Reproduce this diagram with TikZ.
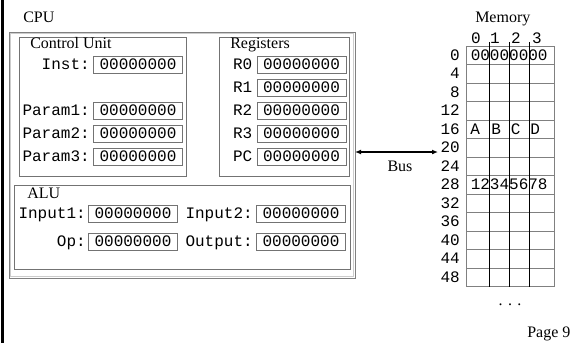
\documentclass[tikz,border=0pt]{standalone}
\usepackage{fontspec}
\setmainfont{Liberation Serif}
\setmonofont{Liberation Mono}
\usetikzlibrary{arrows.meta, positioning}

\newcommand{\capfont}{\fontsize{12}{14}\selectfont\rmfamily}
\newcommand{\cellfont}{\fontsize{12}{14}\selectfont\ttfamily}

\tikzset{
    unit/.style={draw=black!55, line width=0.75pt},
    valbox/.style={draw=black!55, line width=0.75pt, font=\cellfont, inner sep=0pt,
        minimum width=66.75pt, minimum height=12.75pt, text height=7.5pt, text depth=0pt},
    vallbl/.style={font=\cellfont, inner sep=0pt, text height=7.5pt, text depth=0pt},
    title/.style={font=\capfont, anchor=base west, inner sep=0pt},
    busarrow/.style={{Latex[length=4.5pt,width=3.75pt]}-{Latex[length=4.5pt,width=3.75pt]}, line width=1.2pt},
}

\begin{document}
\begin{tikzpicture}[x=0.75pt, y=-0.75pt]
    \useasboundingbox (0,0) rectangle (588,343);
    % rule down the left margin
    \draw[line width=2.25pt] (2.5,0) -- (2.5,343);

    % CPU frame with grooved edge
    \draw[draw=black!50, line width=0.75pt] (9,32) rectangle (355,278);
    \draw[draw=black!20, line width=0.75pt] (10.4,33.4) rectangle (353.6,276.6);
    \node[title] (cpu) at (23,22) {CPU};

    % control unit
    \draw[unit] (19,37) rectangle (186,176);
    \node[title] (cu) at (30,48) {Control Unit};
    \node[valbox] (inst) at (138,64.5) {00000000};
    \node[vallbl, left=2.25pt of inst] (instl) {Inst:};
    \foreach \i in {1,2,3} {
        \node[valbox] (param\i) at (138,{87.5+23*\i}) {00000000};
        \node[vallbl, left=2.25pt of param\i] (paraml\i) {Param\i:};
    }

    % register file
    \draw[unit] (219,37) rectangle (349,176);
    \node[title] (regs) at (230,48) {Registers};
    \foreach \rn [count=\i from 0] in {R0,R1,R2,R3,PC} {
        \node[valbox] (reg\i) at (301.5,{64.5+23*\i}) {00000000};
        \node[vallbl, left=3pt of reg\i] (regl\i) {\rn};
    }

    % ALU
    \draw[unit] (14,185) rectangle (350,269);
    \node[title] (alu) at (27,198) {ALU};
    \node[valbox] (in1) at (133,213.5) {00000000};
    \node[valbox] (in2) at (301,213.5) {00000000};
    \node[valbox] (op) at (133,241.5) {00000000};
    \node[valbox] (out) at (301,241.5) {00000000};
    \node[vallbl, left=1.5pt of in1] (in1l) {Input1:};
    \node[vallbl, left=2.25pt of in2] (in2l) {Input2:};
    \node[vallbl, left=1.5pt of op] (opl) {Op:};
    \node[vallbl, left=2.25pt of out] (outl) {Output:};

    % bus between CPU and memory
    \coordinate (busl) at (355,152);
    \coordinate (busr) at (438,152);
    \draw[busarrow] (busl) -- (busr);
    \node[font=\capfont, inner sep=0pt] (bus) at (400,166) {Bus};

    % memory grid
    \node[title] (mem) at (475,22) {Memory};
    \foreach \cl/\x in {0/476,1/495,2/516,3/537}
        \node[vallbl] (col\cl) at (\x,38) {\cl};
    \foreach \k in {0,...,13}
        \draw[black!50, line width=0.75pt] (466,{46+18.5*\k}) -- (554,{46+18.5*\k});
    \draw[black!50, line width=0.75pt] (466,46) -- (466,286.5);
    \draw[black!50, line width=0.75pt] (554,46) -- (554,286.5);
    \foreach \x in {489,509,529}
        \draw[line width=0.75pt] (\x,42) -- (\x,286.5);
    \foreach \a [count=\k from 0] in {0,4,...,48}
        \node[vallbl, anchor=east] (addr\a) at (460,{55.25+18.5*\k}) {\a};

    % memory contents
    \node[vallbl, anchor=west] (word0) at (470.5,55.25) {00000000};
    \foreach \ch/\x in {A/470,B/491,C/510.5,D/530}
        \node[vallbl, anchor=west] (byte\ch) at (\x,129.25) {\ch};
    \node[vallbl, anchor=west] (word28) at (470.5,184.75) {12345678};

    \node[font=\capfont, inner sep=0pt] (more) at (510,305) {. . .};
    \node[title] (page) at (527,337) {Page 9};
\end{tikzpicture}
\end{document}
